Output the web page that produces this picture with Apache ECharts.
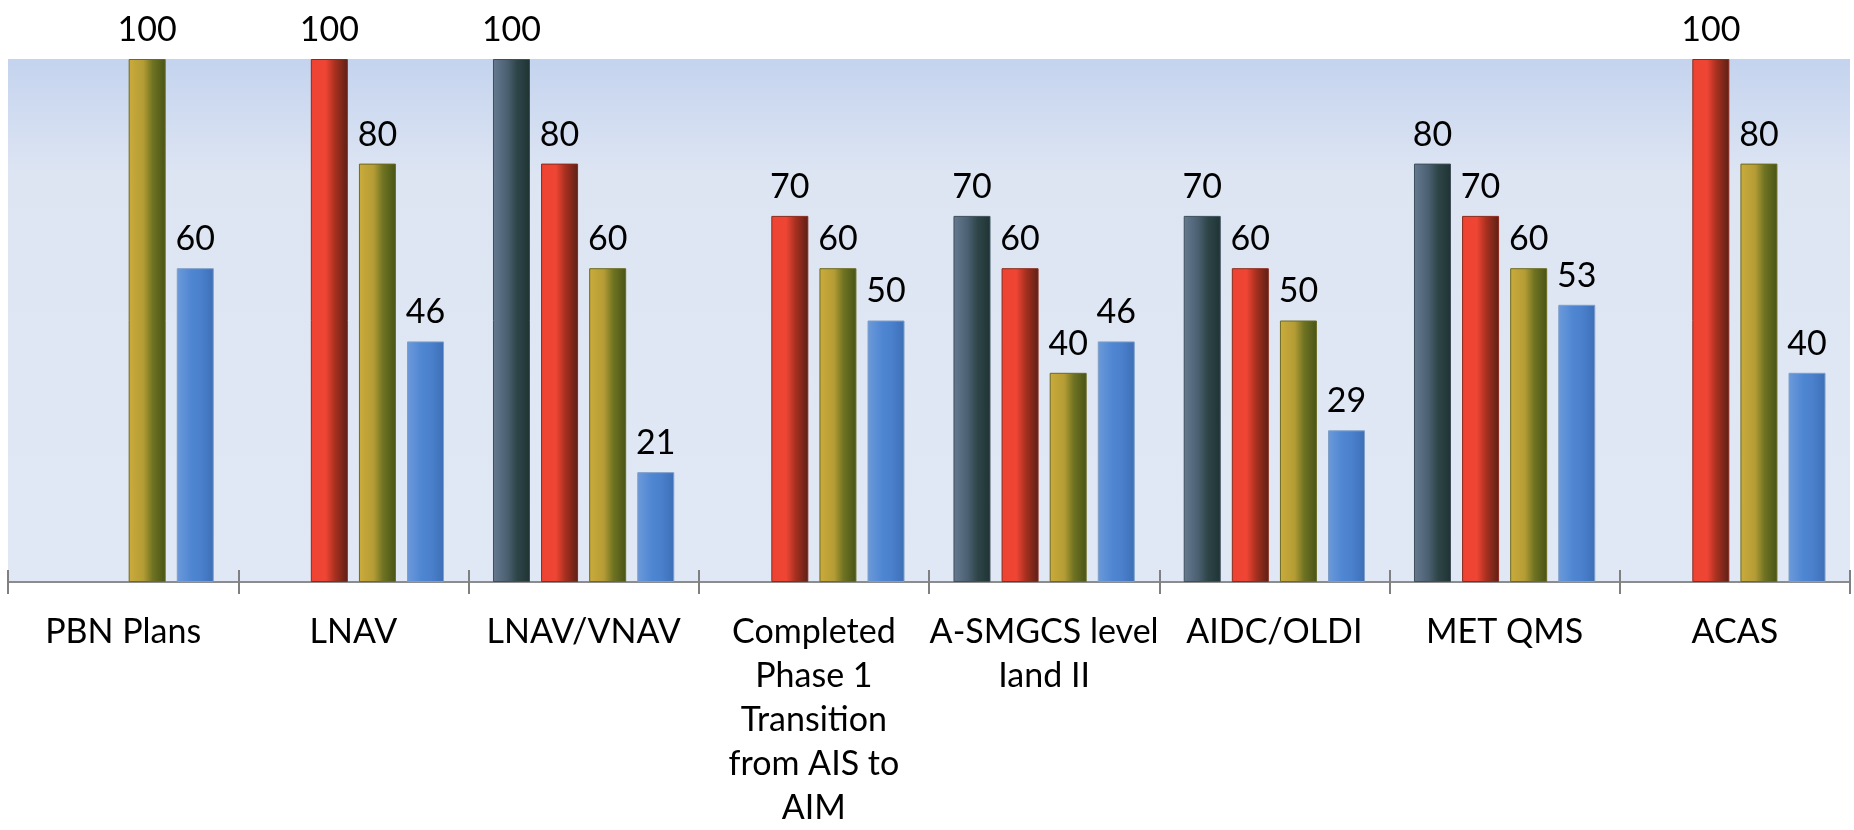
<!DOCTYPE html>
<html>
<head>
<meta charset="utf-8">
<script src="https://cdn.jsdelivr.net/npm/echarts@6/dist/echarts.min.js"></script>
<style>
  html, body { margin: 0; padding: 0; background: #fff; }
  #chartBar1 { width: 1854px; height: 830px; }
</style>
</head>
<body>
<div id="chartBar1"></div>
<script>
'use strict'

/************************ DATA *************************/
var categories = [
  'PBN Plans',
  'LNAV',
  'LNAV/VNAV',
  'Completed\nPhase 1\nTransition\nfrom AIS to\nAIM',
  'A-SMGCS level\nIand II',
  'AIDC/OLDI',
  'MET QMS',
  'ACAS'
];
var slateValues = [null, null, 100, null, 70, 70, 80, null];
var redValues   = [null, 100, 80, 70, 60, 60, 70, 100];
var goldValues  = [100, 80, 60, 60, 40, 50, 60, 80];
var blueValues  = [60, 46, 21, 50, 46, 29, 53, 40];

var font = 'Lato, "Open Sans", sans-serif';

function barFill(c) {
  return new echarts.graphic.LinearGradient(0, 0, 1, 0, [
    { offset: 0, color: c[0] },
    { offset: 0.4, color: c[1] },
    { offset: 0.65, color: c[2] },
    { offset: 1, color: c[3] }
  ]);
}

function makeSeries(name, data, colors, border) {
  return {
    name: name,
    type: 'bar',
    data: data,
    barWidth: 37,
    barGap: '30%',
    itemStyle: {
      color: barFill(colors),
      borderColor: border,
      borderWidth: 1
    },
    label: {
      show: true,
      position: 'top',
      distance: 12,
      fontFamily: font,
      fontSize: 34,
      color: '#000'
    }
  };
}

/************************ BAR CHART *************************/
var chart = document.getElementById('chartBar1');
var barChart = echarts.init(chart);

var tickStyle = { color: '#808080', width: 2 };

var option = {
  backgroundColor: '#fff',
  animation: false,
  grid: {
    top: 59,
    right: 4,
    bottom: 247,
    left: 8,
    show: true,
    borderWidth: 0,
    backgroundColor: new echarts.graphic.LinearGradient(0, 0, 0, 1, [
      { offset: 0, color: '#c4d3ee' },
      { offset: 0.22, color: '#dde5f3' },
      { offset: 1, color: '#e1e8f5' }
    ])
  },
  xAxis: [{
    type: 'category',
    data: categories,
    axisLine: {
      show: true,
      lineStyle: { color: '#8c8c8c', width: 2 }
    },
    axisTick: {
      show: true,
      interval: 0,
      length: 12,
      lineStyle: tickStyle
    },
    axisLabel: {
      interval: 0,
      margin: 28,
      fontFamily: font,
      fontSize: 34,
      lineHeight: 44,
      color: '#000'
    }
  }, {
    // second copy only for the tick half that sits above the line
    type: 'category',
    data: categories,
    position: 'bottom',
    axisLine: { show: false },
    axisLabel: { show: false },
    axisTick: {
      show: true,
      interval: 0,
      inside: true,
      length: 12,
      lineStyle: tickStyle
    }
  }],
  yAxis: {
    type: 'value',
    min: 0,
    max: 100,
    show: false,
    splitLine: { show: false }
  },
  series: [
    makeSeries('Slate', slateValues, ['#667a90', '#4a5f70', '#2e4548', '#1f3333'], '#3d4f5a'),
    makeSeries('Red', redValues, ['#ee4332', '#ef4534', '#a8301f', '#5c2016'], '#8a2a1c'),
    makeSeries('Gold', goldValues, ['#cbab3c', '#b49c35', '#6f7322', '#485416'], '#6a6a20'),
    makeSeries('Blue', blueValues, ['#6c9ada', '#4f86d2', '#4a80cc', '#3d6fb6'], '#7f9fc8')
  ]
};

barChart.setOption(option);
</script>
</body>
</html>
